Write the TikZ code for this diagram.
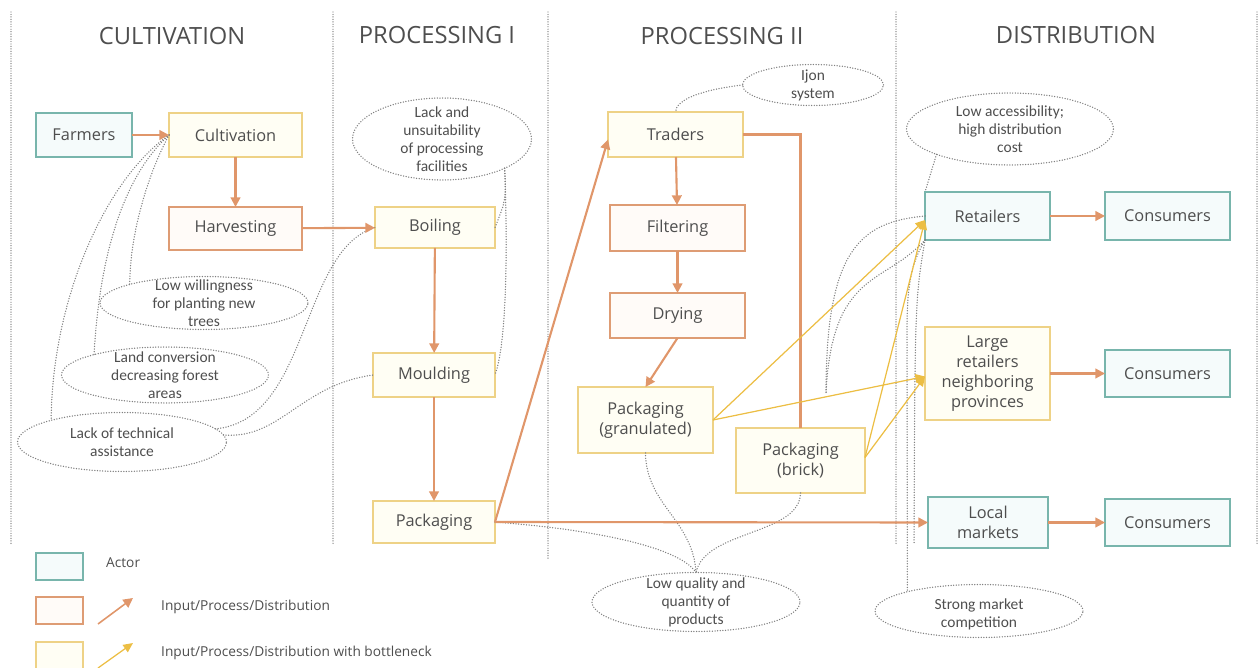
\documentclass[tikz,border=0pt]{standalone}
\usepackage{fontspec}
\setmainfont{Open Sans}
\newfontfamily\notefont{Carlito}
\usetikzlibrary{arrows.meta,shapes.geometric,calc}

\definecolor{ink}{HTML}{4E4E4E}
\definecolor{actorline}{HTML}{78B5AC}
\definecolor{actorfill}{HTML}{F5FBFB}
\definecolor{procline}{HTML}{DE9C74}
\definecolor{procfill}{HTML}{FFFBF8}
\definecolor{neckline}{HTML}{EED286}
\definecolor{neckfill}{HTML}{FFFEF4}
\definecolor{flow}{HTML}{E0966A}
\definecolor{neckflow}{HTML}{ECBE44}
\definecolor{dots}{HTML}{808080}

\tikzset{
  box/.style={rectangle, draw, line width=1pt, inner sep=0pt, outer sep=0pt,
    align=center, text=ink, font=\fontsize{9.3}{11.4}\selectfont},
  actor/.style={box, draw=actorline, fill=actorfill},
  proc/.style={box, draw=procline, fill=procfill},
  neck/.style={box, draw=neckline, fill=neckfill},
  issue/.style={ellipse, draw=dots, line width=0.85pt, dash pattern=on 0pt off 1.5pt,
    line cap=round, inner sep=0pt, outer sep=0pt},
  issuetext/.style={text=ink, align=center, font=\notefont\fontsize{8.8}{10.2}\selectfont},
  flowarrow/.style={draw=flow, line width=1.2pt, -{Triangle[width=5.5pt,length=5.5pt]}},
  flowline/.style={draw=flow, line width=1.2pt},
  neckarrow/.style={draw=neckflow, line width=0.7pt, -{Triangle[width=5pt,length=5.5pt]}},
  link/.style={draw=dots, line width=0.85pt, dash pattern=on 0pt off 1.5pt, line cap=round},
  divider/.style={draw=dots, line width=0.8pt, dash pattern=on 0pt off 1.4pt, line cap=round},
  heading/.style={text=ink, font=\fontsize{13.5}{16}\selectfont},
  legendtext/.style={text=ink, anchor=west, font=\fontsize{7.8}{9}\selectfont}
}

\begin{document}
\begin{tikzpicture}[x=0.02cm,y=-0.02cm]
\useasboundingbox (0,0) rectangle (1260,668);

% stage dividers
\foreach \x/\yb in {11/545,333/545,548/560,896/545,1257/545}
  \draw[divider] (\x,12) -- (\x,\yb);

% stage headings
\node[heading] (hcult) at (172,36) {CULTIVATION};
\node[heading] (hproc1) at (437,35) {PROCESSING I};
\node[heading] (hproc2) at (722,36) {PROCESSING II};
\node[heading] (hdist) at (1076,35) {DISTRIBUTION};

% cultivation
\node[actor, minimum width=1.92cm, minimum height=0.88cm] (farmers) at (84,135) {Farmers};
\node[neck, minimum width=2.66cm, minimum height=0.88cm] (cultivation) at (235.5,135) {Cultivation};
\node[proc, minimum width=2.66cm, minimum height=0.86cm] (harvesting) at (235.5,228.5) {Harvesting};

% processing I
\node[neck, minimum width=2.40cm, minimum height=0.82cm] (boiling) at (435,227.5) {Boiling};
\node[neck, minimum width=2.44cm, minimum height=0.88cm] (moulding) at (434,375) {Moulding};
\node[neck, minimum width=2.44cm, minimum height=0.84cm] (packone) at (434,522) {Packaging};

% processing II
\node[neck, minimum width=2.70cm, minimum height=0.90cm] (traders) at (675.5,134.5) {Traders};
\node[proc, minimum width=2.70cm, minimum height=0.92cm] (filtering) at (677.5,228) {Filtering};
\node[proc, minimum width=2.70cm, minimum height=0.90cm] (drying) at (677.5,315.5) {Drying};
\node[neck, minimum width=2.70cm, minimum height=1.32cm] (granulated) at (645.5,420) {Packaging\\(granulated)};
\node[neck, minimum width=2.58cm, minimum height=1.30cm] (brick) at (800.5,460.5) {Packaging\\(brick)};

% distribution
\node[actor, minimum width=2.50cm, minimum height=0.96cm] (retailers) at (987.5,216) {Retailers};
\node[actor, minimum width=2.50cm, minimum height=0.96cm] (consa) at (1167.5,216) {Consumers};
\node[neck, minimum width=2.50cm, minimum height=1.86cm] (large) at (987.5,373.5) {Large\\retailers\\neighboring\\provinces};
\node[actor, minimum width=2.50cm, minimum height=0.94cm] (consb) at (1167.5,373.5) {Consumers};
\node[actor, minimum width=2.40cm, minimum height=1.02cm] (local) at (988,522.5) {Local\\markets};
\node[actor, minimum width=2.50cm, minimum height=0.94cm] (consc) at (1167.5,522.5) {Consumers};

% bottlenecks
\node[issue, minimum width=3.58cm, minimum height=1.64cm] (unsuit) at (442,139) {};
\node[issuetext] at (unsuit) {Lack and\\unsuitability\\of processing\\facilities};
\node[issue, minimum width=2.82cm, minimum height=0.82cm] (ijon) at (813,85) {};
\node[issuetext] at (ijon) {Ijon\\system};
\node[issue, minimum width=4.14cm, minimum height=1.44cm] (access) at (1010,129) {};
\node[issuetext] at (access) {Low accessibility;\\high distribution\\cost};
\node[issue, minimum width=4.16cm, minimum height=1.06cm] (willing) at (204,303) {};
\node[issuetext] at (willing) {Low willingness\\for planting new\\trees};
\node[issue, minimum width=4.14cm, minimum height=1.12cm] (landconv) at (165,375) {};
\node[issuetext] at (landconv) {Land conversion\\decreasing forest\\areas};
\node[issue, minimum width=4.18cm, minimum height=1.18cm] (techassist) at (122,442) {};
\node[issuetext] at (techassist) {Lack of technical\\assistance};
\node[issue, minimum width=4.16cm, minimum height=1.18cm] (quality) at (696,602) {};
\node[issuetext] at (quality) {Low quality and\\quantity of\\products};
\node[issue, minimum width=4.16cm, minimum height=1.06cm] (compet) at (979,611) {};
\node[issuetext] at ([yshift=-0.06cm]compet.center) {Strong market\\competition};

% links between bottlenecks and stages
\draw[link] (cultivation.west) .. controls (150,170) and (130,230) .. (willing.166);
\draw[link] (cultivation.west) .. controls (125,175) and (100,250) .. (landconv.164);
\draw[link] (cultivation.west) .. controls (105,180) and (52,300) .. (techassist.163);
\draw[link] (techassist.8) .. controls (310,420) and (300,250) .. (boiling.west);
\draw[link] (techassist.4) .. controls (280,440) and (300,385) .. (moulding.west);
\draw[link] (unsuit.-25) .. controls (506,200) .. (boiling.east);
\draw[link] (unsuit.-25) .. controls (508,260) and (506,345) .. (moulding.east);
\draw[link] (ijon.west) .. controls (700,90) and (676,100) .. (traders.north);
\draw[link] (granulated.south) .. controls (646,505) and (693,520) .. (quality.north);
\draw[link] (brick.south) .. controls (800,535) and (705,530) .. (quality.north);
\draw[link] (packone.east) .. controls (600,530) and (680,548) .. (quality.north);
\coordinate (hang) at (826,393);
\coordinate (drop) at (914,543);
\draw[link] (access.199) -- (retailers.north west);
\draw[link] (retailers.south west) .. controls (907,270) and (907,300) .. (907,340) -- (compet.165);
\draw[link] (retailers.west) .. controls (860,222) and (826,250) .. (hang);
\draw[link] (retailers.south west) .. controls (885,285) and (832,270) .. (hang);
\draw[link] (retailers.south west) .. controls (915,300) .. (drop);

% product flows
\draw[flowarrow] (farmers) -- (cultivation);
\draw[flowarrow] (cultivation) -- (harvesting);
\draw[flowarrow] (harvesting) -- (boiling);
\draw[flowarrow] (boiling) -- (moulding);
\draw[flowarrow] (moulding) -- (packone);
\draw[flowarrow] (packone.east) -- ([yshift=-0.1cm]traders.west);
\draw[flowarrow] (traders) -- (filtering);
\draw[flowarrow] (filtering) -- (drying);
\draw[flowarrow] (drying.south) -- (granulated.north);
\draw[flowline] (traders.east) -| (brick.north);
\draw[flowarrow] (packone.east) -- (local.west);
\draw[flowarrow] (retailers) -- (consa);
\draw[flowarrow] (large) -- (consb);
\draw[flowarrow] (local) -- (consc);
\draw[neckarrow] (granulated.east) -- ([yshift=-0.08cm]retailers.west);
\draw[neckarrow] (granulated.east) -- ([yshift=-0.06cm]large.west);
\draw[neckarrow] ([yshift=0.06cm]brick.east) -- ([yshift=-0.08cm]retailers.west);
\draw[neckarrow] ([yshift=0.06cm]brick.east) -- ([yshift=-0.06cm]large.west);

% legend
\node[actor, minimum width=0.94cm, minimum height=0.54cm] (keyactor) at (59.5,566.5) {};
\node[proc, minimum width=0.94cm, minimum height=0.54cm] (keyproc) at (59.5,610.5) {};
\node[neck, minimum width=0.94cm, minimum height=0.54cm] (keyneck) at (59.5,655.5) {};
\coordinate (pa) at (98,624);
\coordinate (pb) at (133,598);
\coordinate (na) at (98,668);
\coordinate (nb) at (133,643);
\draw[flowarrow, line width=0.9pt] (pa) -- (pb);
\draw[neckarrow] (na) -- (nb);
\node[legendtext] (lactor) at (100,563) {Actor};
\node[legendtext] (lproc) at (155,607) {Input/Process/Distribution};
\node[legendtext] (lneck) at (155,653) {Input/Process/Distribution with bottleneck};
\end{tikzpicture}
\end{document}
